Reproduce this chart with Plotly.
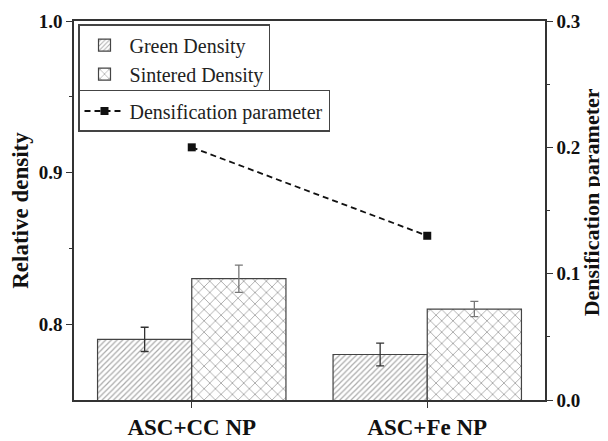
import plotly.graph_objects as go

categories = ["ASC+CC NP", "ASC+Fe NP"]
green_density = [0.79, 0.78]
green_err = [0.008, 0.0075]
sintered_density = [0.83, 0.81]
sintered_err = [0.009, 0.005]
densification = [0.20, 0.13]

FONT = "Liberation Serif, Times New Roman, Times, serif"
AX = "#333333"

fig = go.Figure()
fig.add_trace(go.Bar(
    x=categories, y=green_density, name="Green Density",
    marker=dict(color="white", line=dict(color="#444", width=1.2),
                pattern=dict(shape="/", fgcolor="#555", bgcolor="white", size=4, solidity=0.3)),
    error_y=dict(type="data", array=green_err, color="#333", thickness=1.3, width=4),
    legend="legend",
))
fig.add_trace(go.Bar(
    x=categories, y=sintered_density, name="Sintered Density",
    marker=dict(color="white", line=dict(color="#444", width=1.2),
                pattern=dict(shape="x", fgcolor="#444", bgcolor="white", size=8, solidity=0.2)),
    error_y=dict(type="data", array=sintered_err, color="#777", thickness=1.3, width=4),
    legend="legend",
))
fig.add_trace(go.Scatter(
    x=categories, y=densification, name="Densification parameter", yaxis="y2",
    mode="lines+markers",
    line=dict(color="#111", width=1.8, dash="6px,4px"),
    marker=dict(symbol="square", size=8, color="#111"),
    legend="legend2",
))

fig.update_layout(
    width=600, height=433,
    margin=dict(l=66, r=63, t=13, b=41),
    plot_bgcolor="white", paper_bgcolor="white",
    font=dict(family=FONT, color="#222", size=16),
    barmode="group", bargap=0.2, bargroupgap=0,
    xaxis=dict(range=[-0.5, 1.5], showline=True, linecolor=AX, linewidth=1.5, mirror=True,
               automargin=False,
               ticks="outside", ticklen=6, tickcolor=AX, tickwidth=1.2,
               tickfont=dict(family=FONT, size=23, color="#111", weight="bold"),
               showgrid=False, zeroline=False),
    yaxis=dict(range=[0.75, 1.0], tickvals=[0.8, 0.9, 1.0], ticktext=["0.8", "0.9", "1.0"],
               showline=True, linecolor=AX, linewidth=1.5, automargin=False,
               ticks="outside", ticklen=6, tickcolor=AX, tickwidth=1.2,
               minor=dict(tickvals=[0.85, 0.95], ticks="outside", ticklen=3, tickcolor=AX),
               tickfont=dict(family=FONT, size=19, color="#111", weight="bold"),
               title=dict(text="Relative density", font=dict(family=FONT, size=23, color="#111", weight="bold"), standoff=10),
               showgrid=False, zeroline=False),
    yaxis2=dict(range=[0, 0.3], overlaying="y", side="right", automargin=False,
                tickvals=[0.0, 0.1, 0.2, 0.3], ticktext=["0.0", "0.1", "0.2", "0.3"],
                showline=True, linecolor=AX, linewidth=1.5,
                ticks="outside", ticklen=6, tickcolor=AX, tickwidth=1.2,
                minor=dict(tickvals=[0.05, 0.15, 0.25], ticks="outside", ticklen=3, tickcolor=AX),
                tickfont=dict(family=FONT, size=19, color="#111", weight="bold"),
                showgrid=False, zeroline=False),
    annotations=[dict(text="Densification parameter", xref="paper", yref="paper",
                      x=1.098, y=0.522, xanchor="center", yanchor="middle",
                      textangle=-90, showarrow=False,
                      font=dict(family=FONT, size=22, color="#111", weight="bold"))],
    legend=dict(x=0.0085, y=0.992, xanchor="left", yanchor="top",
                bordercolor="#444", borderwidth=1.5, bgcolor="white",
                font=dict(family=FONT, size=20, color="#222"),
                tracegroupgap=0, itemwidth=40),
    legend2=dict(x=0.0085, y=0.818, xanchor="left", yanchor="top",
                 bordercolor="#444", borderwidth=1.5, bgcolor="white",
                 font=dict(family=FONT, size=20, color="#222"), itemwidth=40),
)

fig.write_html("out.html")
